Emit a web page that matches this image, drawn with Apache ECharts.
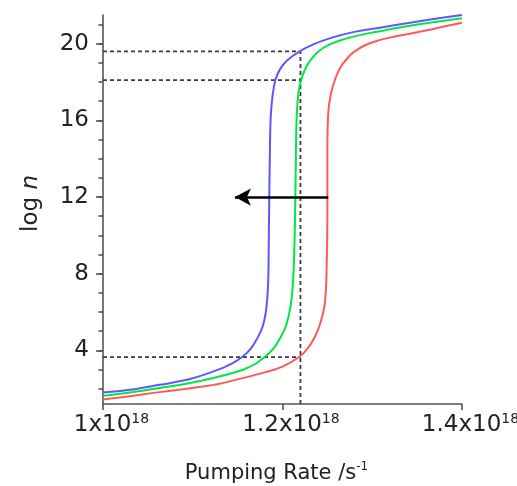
<!DOCTYPE html>
<html>
<head>
<meta charset="utf-8">
<script src="https://cdn.jsdelivr.net/npm/echarts@6/dist/echarts.min.js"></script>
<style>
html, body { margin: 0; padding: 0; background: #fff; }
#chart { width: 517px; height: 486px; }
</style>
</head>
<body>
<div id="chart"></div>
<script>
// pumping rate in units of 1e18 s^-1, log n
let blueCurve = [[1.00, 1.80], [1.03, 1.94], [1.063, 2.20], [1.097, 2.50], [1.13, 3.02], [1.145, 3.35],
    [1.155, 3.65], [1.164, 4.05], [1.171, 4.55], [1.178, 5.26], [1.182, 6.2], [1.184, 7.5],
    [1.185, 11.0], [1.186, 14.5], [1.187, 16.3], [1.189, 17.3], [1.192, 18.1], [1.197, 18.65],
    [1.205, 19.12], [1.219, 19.6], [1.235, 19.98], [1.255, 20.32], [1.28, 20.62], [1.31, 20.85],
    [1.342, 21.1], [1.37, 21.3], [1.40, 21.5]];
let greenCurve = [[1.00, 1.63], [1.03, 1.80], [1.063, 2.03], [1.097, 2.30], [1.13, 2.64], [1.156, 2.99],
    [1.170, 3.3], [1.180, 3.65], [1.190, 4.1], [1.198, 4.7], [1.204, 5.3], [1.209, 6.3],
    [1.212, 7.8], [1.214, 11.0], [1.215, 14.5], [1.216, 16.4], [1.218, 17.5], [1.221, 18.15],
    [1.226, 18.75], [1.232, 19.2], [1.240, 19.6], [1.252, 19.95], [1.266, 20.2], [1.286, 20.45],
    [1.31, 20.67], [1.342, 20.94], [1.37, 21.13], [1.40, 21.33]];
let redCurve = [[1.00, 1.44], [1.03, 1.60], [1.063, 1.82], [1.097, 2.02], [1.119, 2.17], [1.13, 2.26],
    [1.156, 2.55], [1.18, 2.85], [1.20, 3.15], [1.2186, 3.65], [1.228, 4.1], [1.236, 4.7],
    [1.242, 5.4], [1.247, 6.4], [1.249, 8.0], [1.250, 11.0], [1.250, 14.5], [1.251, 16.4],
    [1.254, 17.4], [1.259, 18.2], [1.265, 18.8], [1.2715, 19.2], [1.279, 19.55], [1.292, 19.92],
    [1.309, 20.2], [1.325, 20.38], [1.342, 20.52], [1.361, 20.7], [1.38, 20.9], [1.40, 21.1]];

let dashLevels = [19.6, 18.1, 3.65];
let dashX = 1.22;
let arrowFrom = [1.251, 12];
let arrowTo = [1.147, 12];

let yMin = 1.2, yMax = 21.5;
let yMajor = [4, 8, 12, 16, 20];
let yMinor = [2, 3, 4, 5, 6, 7, 8, 9, 10, 11, 12, 13, 14, 15, 16, 17, 18, 19, 20, 21];

let font = 'DejaVu Sans';
let MyChart = echarts.init(document.getElementById('chart'));

let dashStyle = { color: '#3a3a3a', width: 1.8, type: [4, 3] };
let series = [];
dashLevels.forEach(function (lv) {
    series.push({ type: 'line', data: [[1, lv], [dashX, lv]], symbol: 'none', lineStyle: dashStyle, z: 1 });
});
series.push({ type: 'line', data: [[dashX, yMin], [dashX, dashLevels[0]]], symbol: 'none', lineStyle: dashStyle, z: 1 });

function curve(d, c) {
    return { type: 'line', data: d, symbol: 'none', smooth: 0.4, lineStyle: { color: c, width: 2 }, z: 2 };
}
series.push(curve(blueCurve, '#5a5aff'));
series.push(curve(greenCurve, '#00e646'));
series.push(curve(redCurve, '#ff5a5a'));

series.push({
    type: 'line', data: [], z: 3,
    markLine: {
        silent: true,
        symbol: ['none', 'arrow'],
        symbolSize: [13, 16],
        label: { show: false },
        lineStyle: { color: '#000', width: 2.5, type: 'solid' },
        data: [[{ coord: arrowFrom }, { coord: arrowTo }]]
    }
});

let option = {
    animation: false,
    grid: { left: 103, right: 55, top: 15, bottom: 82, outerBoundsMode: 'none' },
    xAxis: {
        type: 'value', min: 1, max: 1.4, interval: 0.2,
        axisLine: { lineStyle: { color: '#555', width: 1.6 } },
        axisTick: { length: 6, lineStyle: { color: '#555', width: 1.6 } },
        splitLine: { show: false },
        axisLabel: {
            margin: 8,
            formatter: function (v) {
                return '{a|' + (+v.toFixed(1)) + 'x10}{b|18}';
            },
            rich: {
                a: { fontFamily: font, fontSize: 23, color: '#222', lineHeight: 27, padding: [0, 0, 0, 17] },
                b: { fontFamily: font, fontSize: 14, color: '#222', verticalAlign: 'top', lineHeight: 14 }
            }
        },
        name: '{a|Pumping Rate /s}{b|-1}',
        nameLocation: 'middle',
        nameGap: 57,
        nameTextStyle: {
            rich: {
                a: { fontFamily: font, fontSize: 21, color: '#222', lineHeight: 25 },
                b: { fontFamily: font, fontSize: 12, color: '#222', verticalAlign: 'top', lineHeight: 13, padding: [0, 12, 0, 0] }
            }
        }
    },
    yAxis: [{
        type: 'value', min: yMin, max: yMax,
        axisLine: { lineStyle: { color: '#555', width: 1.6 } },
        axisTick: { length: 7, customValues: yMajor, lineStyle: { color: '#555', width: 1.6 } },
        splitLine: { show: false },
        axisLabel: { customValues: yMajor, margin: 14, fontFamily: font, fontSize: 23, color: '#222' },
        name: '{a|log }{b|n}',
        nameLocation: 'middle',
        nameGap: 60,
        nameTextStyle: {
            rich: {
                a: { fontFamily: font, fontSize: 23, color: '#222', padding: [0, 0, 0, 12] },
                b: { fontFamily: font, fontSize: 23, color: '#222', fontStyle: 'italic' }
            }
        }
    }, {
        type: 'value', min: yMin, max: yMax, position: 'left',
        axisLine: { show: false },
        axisTick: { show: true, length: 4.5, customValues: yMinor, lineStyle: { color: '#555', width: 1.6 } },
        axisLabel: { show: false },
        splitLine: { show: false }
    }],
    series: series
};

MyChart.setOption(option);
</script>
</body>
</html>
